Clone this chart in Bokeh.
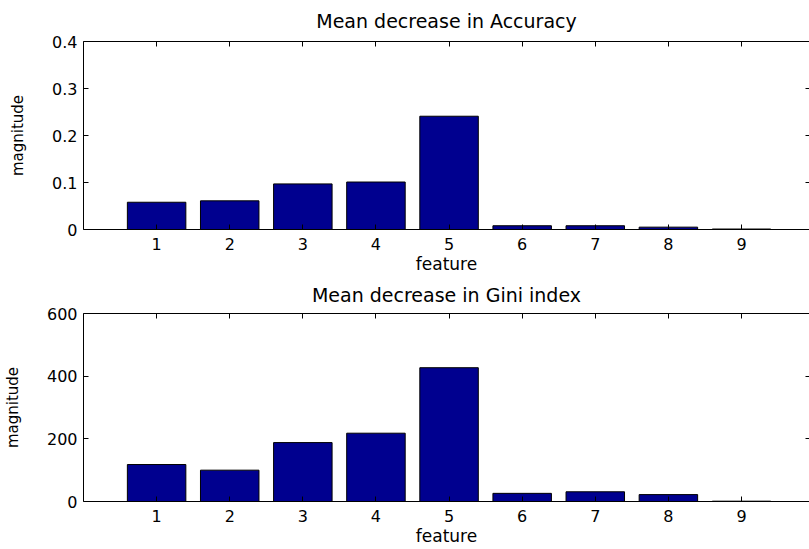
from bokeh.plotting import figure
from bokeh.layouts import column
from bokeh.models import LinearAxis, FixedTicker, Range1d
from bokeh.embed import file_html
from bokeh.resources import INLINE

# ---- data ----
features = [1, 2, 3, 4, 5, 6, 7, 8, 9]
feature_ticks = [1, 2, 3, 4, 5, 6, 7, 8, 9]
acc_values = [0.058, 0.061, 0.097, 0.101, 0.241, 0.008, 0.008, 0.005, 0.001]
gini_values = [118, 100, 188, 218, 427, 26, 31, 22, 1]
acc_ticks = [0, 0.1, 0.2, 0.3, 0.4]
acc_tick_labels = ["0", "0.1", "0.2", "0.3", "0.4"]
gini_ticks = [0, 200, 400, 600]
gini_tick_labels = ["0", "200", "400", "600"]
titles = ["Mean decrease in Accuracy", "Mean decrease in Gini index"]
x_label = "feature"
y_label = "magnitude"

FONT = "DejaVu Sans"
BAR = "#00008F"


def make(values, yticks, ylabels, title, height, top, bottom,
         tick_standoff, label_standoff, title_standoff):
    p = figure(width=809, height=height, output_backend="svg", toolbar_location=None,
               x_range=Range1d(0, 9.93), y_range=Range1d(yticks[0], yticks[-1]),
               min_border_left=82, min_border_right=0,
               min_border_top=top, min_border_bottom=bottom,
               x_axis_label=x_label, y_axis_label=y_label)
    p.vbar(x=features, top=values, width=0.8, bottom=0,
           fill_color=BAR, line_color="black", line_width=1)
    p.outline_line_color = None
    p.xgrid.visible = False
    p.ygrid.visible = False
    p.background_fill_color = "white"
    p.border_fill_color = "white"

    p.title.text = title
    p.title.align = "center"
    p.title.vertical_align = "top"
    p.title.text_font = FONT
    p.title.text_font_size = "19px"
    p.title.text_font_style = "normal"
    p.title.text_color = "black"
    p.title.standoff = title_standoff

    xa = p.xaxis[0]
    xa.ticker = FixedTicker(ticks=feature_ticks)
    ya = p.yaxis[0]
    ya.ticker = FixedTicker(ticks=yticks)
    ya.major_label_overrides = {v: l for v, l in zip(yticks, ylabels)}

    for ax in (xa, ya):
        ax.major_tick_in = 5
        ax.major_tick_out = 0
        ax.minor_tick_line_color = None
        ax.axis_line_color = "black"
        ax.major_tick_line_color = "black"
        ax.major_label_text_font = FONT
        ax.major_label_text_font_size = "16px"
        ax.major_label_text_color = "black"
        ax.axis_label_text_font = FONT
        ax.axis_label_text_font_style = "normal"
        ax.axis_label_text_color = "black"
    xa.major_label_standoff = tick_standoff
    xa.axis_label_standoff = label_standoff
    xa.axis_label_text_font_size = "17px"
    ya.major_label_standoff = 6
    ya.axis_label_standoff = 22
    ya.axis_label_text_font_size = "15px"

    # MATLAB-style box: top axis line with inward ticks, right inward ticks (no labels)
    top_ax = LinearAxis(ticker=FixedTicker(ticks=[], minor_ticks=feature_ticks),
                        minor_tick_in=5, minor_tick_out=0,
                        major_tick_in=0, major_tick_out=0,
                        major_label_standoff=0, major_label_text_font_size="0px",
                        axis_line_color="black", minor_tick_line_color="black")
    p.add_layout(top_ax, "above")
    right_ax = LinearAxis(ticker=FixedTicker(ticks=[], minor_ticks=yticks),
                          minor_tick_in=4, minor_tick_out=0,
                          major_tick_in=0, major_tick_out=0,
                          major_label_standoff=0, major_label_text_font_size="0px",
                          axis_line_color=None, minor_tick_line_color="black")
    p.add_layout(right_ax, "right")
    return p


p1 = make(acc_values, acc_ticks, acc_tick_labels, titles[0], 276, 41, 47, 8, 1, 15)
p2 = make(gini_values, gini_ticks, gini_tick_labels, titles[1], 272, 37, 46, 8, 1, 11)

p = column(p1, p2, spacing=0)
open("out.html", "w").write(file_html(p, INLINE))
